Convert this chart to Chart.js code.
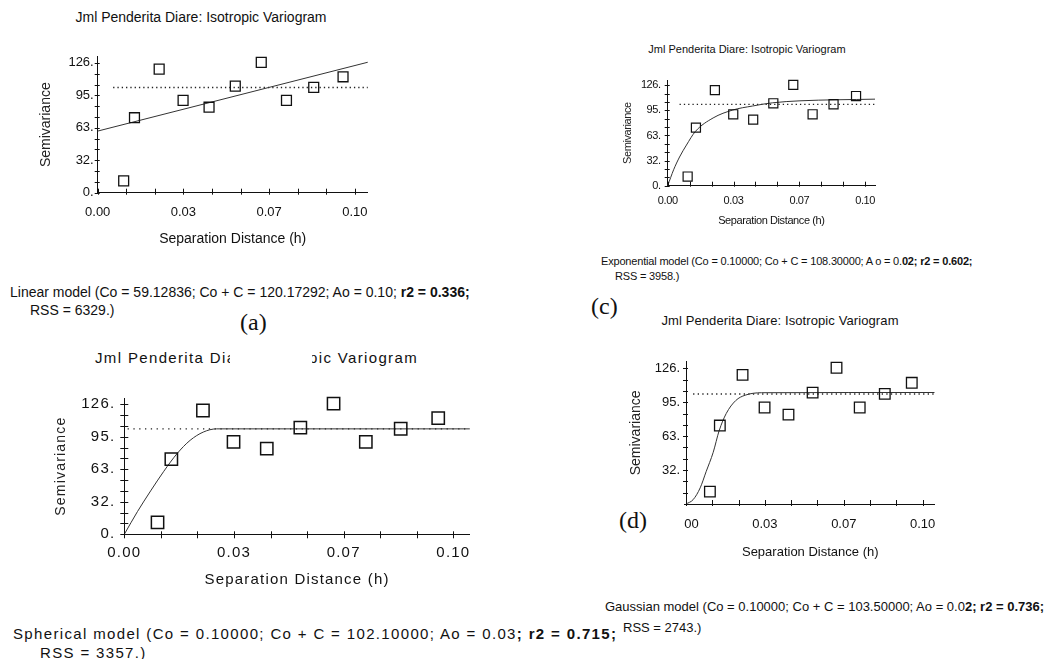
<!DOCTYPE html>
<html>
<head>
<meta charset="utf-8">
<script src="https://cdn.jsdelivr.net/npm/chart.js@4.4.1/dist/chart.umd.min.js"></script>
<style>
  html, body { margin:0; padding:0; background:#fff; }
  body { width:1052px; height:659px; position:relative; overflow:hidden; font-family:"Liberation Sans", Arial, sans-serif; color:#111; }
  canvas { position:absolute; }
  .t { position:absolute; white-space:nowrap; line-height:1; transform:translateY(-50%); }
  .c { transform:translate(-50%,-50%); }
  .lbl { font-family:"Liberation Serif", "Times New Roman", serif; font-size:24px; color:#111; }
  b { font-weight:bold; }
  .mask { position:absolute; background:#fff; }
</style>
</head>
<body>
<canvas id="cA" width="360" height="212" style="left:20px;top:40px"></canvas>
<canvas id="cB" width="440" height="210" style="left:40px;top:380px"></canvas>
<canvas id="cC" width="285" height="168" style="left:600px;top:64px"></canvas>
<canvas id="cD" width="338" height="220" style="left:610px;top:345px"></canvas>

<!-- (a) linear -->
<div class="t c" style="left:201px;top:17px;font-size:14px;">Jml Penderita Diare: Isotropic Variogram</div>
<div class="t" style="left:10px;top:292px;font-size:14px;">Linear model (Co = 59.12836; Co + C = 120.17292; Ao = 0.10; <b>r2 = 0.336;</b></div>
<div class="t" style="left:30px;top:310px;font-size:14px;">RSS = 6329.)</div>
<div class="t lbl" style="left:240px;top:322px;">(a)</div>

<!-- (c) exponential -->
<div class="t c" style="left:747px;top:49px;font-size:11px;">Jml Penderita Diare: Isotropic Variogram</div>
<div class="t" style="left:601px;top:261px;font-size:11px;letter-spacing:-0.18px;">Exponential model (Co = 0.10000; Co + C = 108.30000; A o = 0.<b>02; r2 = 0.602;</b></div>
<div class="t" style="left:615px;top:276px;font-size:11px;letter-spacing:-0.18px;">RSS = 3958.)</div>
<div class="t lbl" style="left:591px;top:306px;">(c)</div>

<!-- (b) spherical -->
<div class="t" style="left:95px;top:357px;font-size:15px;letter-spacing:1.35px;">Jml Penderita Diare: Isotropic Variogram</div>
<div class="mask" style="left:230px;top:345px;width:82px;height:25px;"></div>
<div class="t" style="left:13px;top:633px;font-size:15px;letter-spacing:1.35px;">Spherical model (Co = 0.10000; Co + C = 102.10000; Ao = 0.03<b>; r2 = 0.715;</b></div>
<div class="t" style="left:40px;top:652px;font-size:15px;letter-spacing:1.35px;">RSS = 3357.)</div>

<!-- (d) gaussian -->
<div class="t c" style="left:780px;top:320px;font-size:13px;letter-spacing:0.1px;">Jml Penderita Diare: Isotropic Variogram</div>
<div class="t" style="left:605px;top:606px;font-size:13px;">Gaussian model (Co = 0.10000; Co + C = 103.50000; Ao = 0.0<b>2; r2 = 0.736;</b></div>
<div class="t" style="left:623px;top:627px;font-size:13px;">RSS = 2743.)</div>
<div class="mask" style="left:598px;top:496px;width:86px;height:44px;"><div class="t lbl" style="left:21px;top:24px;">(d)</div></div>

<script>
// ---- data ----
const distance     = [0.0101, 0.0143, 0.0239, 0.0332, 0.0433, 0.0535, 0.0636, 0.0734, 0.0840, 0.0954];
const semivariance = [11.5, 72.8, 119.9, 89.6, 83.0, 103.4, 126.5, 89.6, 102.2, 112.5];
const sillValue = 102.1;

const linearX = [0, 0.105];
const linearY = [59.8, 126.6];
const sphericalX = [0, 0.004, 0.008, 0.012, 0.016, 0.020, 0.024, 0.028, 0.105];
const sphericalY = [0, 22, 42, 61, 78, 91, 99, 102.1, 102.1];
const exponentialX = [0, 0.003, 0.006, 0.0095, 0.014, 0.023, 0.033, 0.043, 0.053, 0.067, 0.105];
const exponentialY = [0, 20, 36, 51, 68, 85, 95, 100, 104, 106.5, 108.6];
const gaussianX = [0, 0.003, 0.006, 0.0085, 0.0115, 0.014, 0.017, 0.021, 0.025, 0.032, 0.105];
const gaussianY = [0, 4, 15, 30, 48, 68, 84, 96, 101, 103.3, 103.5];

const xMajorTicks = [0, 0.03333, 0.06667, 0.1];
const xTickLabels = ['0.00', '0.03', '0.07', '0.10'];
const yMajorTicks = [0, 31.5, 63, 94.5, 126];
const yTickLabels = ['0.', '32.', '63.', '95.', '126.'];
const xMax = 0.105, yMax = 132;

// minor ticks: two between each pair of major ticks
function withMinor(major) {
  const out = [];
  for (let i = 0; i < major.length; i++) {
    out.push(major[i]);
    if (i < major.length - 1) {
      const d = (major[i + 1] - major[i]) / 3;
      out.push(major[i] + d, major[i] + 2 * d);
    }
  }
  return out;
}
const xTicks = withMinor(xMajorTicks);
const yTicks = withMinor(yMajorTicks);

const pts = (xs, ys) => xs.map((x, i) => ({x, y: ys[i]}));

const tickMarks = {
  id: 'tickMarks',
  beforeDraw(chart, args, o) { chart.ctx.letterSpacing = o.letterSpacing || '0px'; },
  afterDraw(chart, args, o) {
    const {ctx, chartArea, scales} = chart;
    ctx.save();
    ctx.strokeStyle = '#111';
    ctx.lineWidth = 1;
    ctx.beginPath();
    scales.x.ticks.forEach(t => {
      const px = Math.round(scales.x.getPixelForValue(t.value)) + 0.5;
      ctx.moveTo(px, chartArea.bottom - o.xIn);
      ctx.lineTo(px, chartArea.bottom + o.xOut);
    });
    scales.y.ticks.forEach(t => {
      const py = Math.round(scales.y.getPixelForValue(t.value)) + 0.5;
      ctx.moveTo(chartArea.left - o.yOut, py);
      ctx.lineTo(chartArea.left + o.yIn, py);
    });
    ctx.stroke();
    ctx.restore();
  }
};

const FONT = '"Liberation Sans", Arial, sans-serif';

function panel(id, s, curveX, curveY, sillFrom) {
  new Chart(document.getElementById(id), {
    type: 'scatter',
    data: {
      datasets: [
        { data: pts(distance, semivariance), pointStyle: 'rect', pointRadius: s.r, pointHoverRadius: s.r,
          borderColor: '#111', borderWidth: s.pw, backgroundColor: 'rgba(0,0,0,0)', showLine: false, clip: false },
        { data: pts(curveX, curveY), showLine: true, pointRadius: 0, borderColor: '#333', borderWidth: 1,
          cubicInterpolationMode: 'monotone', clip: false },
        { data: pts([sillFrom, xMax], [sillValue, sillValue]), showLine: true, pointRadius: 0, borderColor: '#222',
          borderWidth: 1.3, borderDash: [1.3, s.dot], clip: false }
      ]
    },
    options: {
      responsive: false, animation: false, events: [],
      layout: { padding: { left: 0, right: s.padRight, top: s.padTop, bottom: 0 } },
      plugins: { legend: { display: false }, title: { display: false }, tooltip: { enabled: false },
        tickMarks: { xIn: s.xIn, xOut: s.xOut, yIn: s.yIn, yOut: s.yOut, letterSpacing: s.ls } },
      scales: {
        x: {
          type: 'linear', min: 0, max: xMax,
          afterBuildTicks: sc => { sc.ticks = xTicks.map(v => ({value: v})); },
          afterFit: sc => { sc.height = s.xH; },
          grid: { display: false, drawTicks: false },
          border: { display: true, color: '#111', width: 1 },
          ticks: { autoSkip: false, maxRotation: 0, padding: s.xTickPad, color: '#111',
            font: { family: FONT, size: s.tickFont },
            callback: (v, i) => (i % 3 === 0 ? xTickLabels[i / 3] : '') },
          title: { display: true, text: 'Separation Distance (h)', color: '#111',
            font: { family: FONT, size: s.xTitleFont }, padding: { top: 0, bottom: s.xTitlePad } }
        },
        y: {
          type: 'linear', min: 0, max: yMax,
          afterBuildTicks: sc => { sc.ticks = yTicks.map(v => ({value: v})); },
          afterFit: sc => { sc.width = s.yW; },
          grid: { display: false, drawTicks: false },
          border: { display: true, color: '#111', width: 1 },
          ticks: { autoSkip: false, padding: s.yTickPad, color: '#111',
            font: { family: FONT, size: s.tickFont },
            callback: (v, i) => (i % 3 === 0 ? yTickLabels[i / 3] : '') },
          title: { display: true, text: 'Semivariance', color: '#222',
            font: { family: FONT, size: s.yTitleFont }, padding: { top: s.yTitlePad, bottom: 0 } }
        }
      }
    },
    plugins: [tickMarks]
  });
}

panel('cA', { padTop: 16.7, padRight: 10, yW: 77.7, xH: 59.3, yTitlePad: 18.1, xTitlePad: 4.8, xTickPad: 12, yTickPad: 4,
  tickFont: 13, xTitleFont: 14, yTitleFont: 14, ls: '0px', r: 7, pw: 1.3, dot: 3, xIn: 4, xOut: 2, yIn: 2, yOut: 3 },
  linearX, linearY, 0.006);
panel('cB', { padTop: 17.1, padRight: 10, yW: 84.3, xH: 55.7, yTitlePad: 12.6, xTitlePad: 1, xTickPad: 10, yTickPad: 9,
  tickFont: 15, xTitleFont: 15, yTitleFont: 14, ls: '1.2px', r: 8.7, pw: 1.5, dot: 4.5, xIn: 3, xOut: 4, yIn: 4, yOut: 4 },
  sphericalX, sphericalY, 0.001);
panel('cC', { padTop: 16.5, padRight: 10, yW: 67.7, xH: 46.3, yTitlePad: 21.1, xTitlePad: 4.4, xTickPad: 8.4, yTickPad: 7,
  tickFont: 11, xTitleFont: 11, yTitleFont: 11, ls: '-0.4px', r: 6.4, pw: 1.2, dot: 3, xIn: 4, xOut: 1, yIn: 2, yOut: 3 },
  exponentialX, exponentialY, 0.006);
panel('cD', { padTop: 16.8, padRight: 10.3, yW: 76, xH: 61, yTitlePad: 17.9, xTitlePad: 4.9, xTickPad: 12.2, yTickPad: 6,
  tickFont: 13, xTitleFont: 13, yTitleFont: 14, ls: '0px', r: 7.5, pw: 1.3, dot: 3.3, xIn: 4, xOut: 2, yIn: 2, yOut: 3 },
  gaussianX, gaussianY, 0.003);
</script>
</body>
</html>
